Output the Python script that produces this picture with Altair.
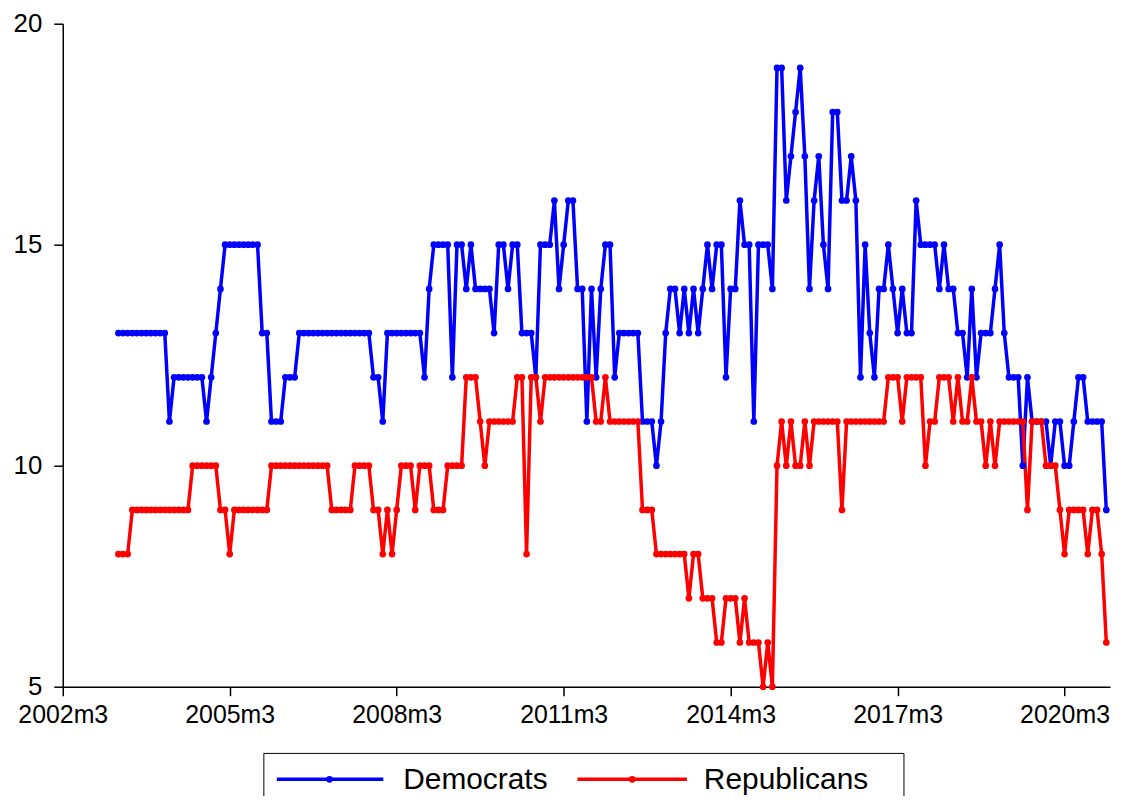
import altair as alt
import pandas as pd

# Monthly series, 2003m3 .. 2020m12 (one row per calendar year)
democrats = (
    [13, 13, 13, 13, 13, 13, 13, 13, 13, 13]                      # 2003 (Mar-Dec)
    + [13, 11, 12, 12, 12, 12, 12, 12, 12, 11, 12, 13]            # 2004
    + [14, 15, 15, 15, 15, 15, 15, 15, 15, 13, 13, 11]            # 2005
    + [11, 11, 12, 12, 12, 13, 13, 13, 13, 13, 13, 13]            # 2006
    + [13, 13, 13, 13, 13, 13, 13, 13, 13, 12, 12, 11]            # 2007
    + [13, 13, 13, 13, 13, 13, 13, 13, 12, 14, 15, 15]            # 2008
    + [15, 15, 12, 15, 15, 14, 15, 14, 14, 14, 14, 13]            # 2009
    + [15, 15, 14, 15, 15, 13, 13, 13, 12, 15, 15, 15]            # 2010
    + [16, 14, 15, 16, 16, 14, 14, 11, 14, 12, 14, 15]            # 2011
    + [15, 12, 13, 13, 13, 13, 13, 11, 11, 11, 10, 11]            # 2012
    + [13, 14, 14, 13, 14, 13, 14, 13, 14, 15, 14, 15]            # 2013
    + [15, 12, 14, 14, 16, 15, 15, 11, 15, 15, 15, 14]            # 2014
    + [19, 19, 16, 17, 18, 19, 17, 14, 16, 17, 15, 14]            # 2015
    + [18, 18, 16, 16, 17, 16, 12, 15, 13, 12, 14, 14]            # 2016
    + [15, 14, 13, 14, 13, 13, 16, 15, 15, 15, 15, 14]            # 2017
    + [15, 14, 14, 13, 13, 12, 14, 12, 13, 13, 13, 14]            # 2018
    + [15, 13, 12, 12, 12, 10, 12, 11, 11, 11, 11, 10]            # 2019
    + [11, 11, 10, 10, 11, 12, 12, 11, 11, 11, 11, 9]             # 2020
)

republicans = (
    [8, 8, 8, 9, 9, 9, 9, 9, 9, 9]                                # 2003 (Mar-Dec)
    + [9, 9, 9, 9, 9, 9, 10, 10, 10, 10, 10, 10]                  # 2004
    + [9, 9, 8, 9, 9, 9, 9, 9, 9, 9, 9, 10]                       # 2005
    + [10, 10, 10, 10, 10, 10, 10, 10, 10, 10, 10, 10]            # 2006
    + [9, 9, 9, 9, 9, 10, 10, 10, 10, 9, 9, 8]                    # 2007
    + [9, 8, 9, 10, 10, 10, 9, 10, 10, 10, 9, 9]                  # 2008
    + [9, 10, 10, 10, 10, 12, 12, 12, 11, 10, 11, 11]             # 2009
    + [11, 11, 11, 11, 12, 12, 8, 12, 12, 11, 12, 12]             # 2010
    + [12, 12, 12, 12, 12, 12, 12, 12, 12, 11, 11, 12]            # 2011
    + [11, 11, 11, 11, 11, 11, 11, 9, 9, 9, 8, 8]                 # 2012
    + [8, 8, 8, 8, 8, 7, 8, 8, 7, 7, 7, 6]                        # 2013
    + [6, 7, 7, 7, 6, 7, 6, 6, 6, 5, 6, 5]                        # 2014
    + [10, 11, 10, 11, 10, 10, 11, 10, 11, 11, 11, 11]            # 2015
    + [11, 11, 9, 11, 11, 11, 11, 11, 11, 11, 11, 11]             # 2016
    + [12, 12, 12, 11, 12, 12, 12, 12, 10, 11, 11, 12]            # 2017
    + [12, 12, 11, 12, 11, 11, 12, 11, 11, 10, 11, 10]            # 2018
    + [11, 11, 11, 11, 11, 11, 9, 11, 11, 11, 10, 10]             # 2019
    + [10, 9, 8, 9, 9, 9, 9, 8, 9, 9, 8, 6]                       # 2020
)

series_names = ["Democrats", "Republicans"]
series_colors = ["#0000FF", "#FF0000"]
x_ticks = [0, 36, 72, 108, 144, 180, 216]     # months since 2002m3
y_ticks = [5, 10, 15, 20]
first_month = 12                              # 2003m3 = 12 months after 2002m3

rows = []
for name, vals in zip(series_names, [democrats, republicans]):
    for i, v in enumerate(vals):
        rows.append({"t": first_month + i, "value": v, "party": name})
df = pd.DataFrame(rows)

FONT = "Liberation Sans"
label_expr = "(2002 + floor((datum.value + 2) / 12)) + 'm' + ((datum.value + 2) % 12 + 1)"

x = alt.X("t:Q",
          scale=alt.Scale(domain=[0, 225.8], nice=False, zero=False),
          axis=alt.Axis(values=x_ticks, labelExpr=label_expr, title=None,
                        labelFlush=False, labelFontSize=25, labelPadding=7))
y = alt.Y("value:Q",
          scale=alt.Scale(domain=[5, 20], nice=False, zero=False),
          axis=alt.Axis(values=y_ticks, title=None, labelFontSize=26, labelPadding=12))
color = alt.Color("party:N",
                  scale=alt.Scale(domain=series_names, range=series_colors),
                  legend=None)

base = alt.Chart(df)
lines = base.mark_line(strokeWidth=3.5).encode(x=x, y=y, color=color, detail="party:N")
points = base.mark_circle(size=45, opacity=1).encode(x=x, y=y, color=color)

# Legend drawn by hand below the plot (pixel positions relative to plot area)
one = pd.DataFrame({"k": [0]})
leg = alt.Chart(one)
legend_box = leg.mark_rect(fill="white", fillOpacity=0, stroke="black", strokeWidth=1).encode(
    x=alt.value(202), x2=alt.value(845), y=alt.value(733), y2=alt.value(810))
legend_parts = [legend_box]
entries = [(series_names[0], series_colors[0], 215, 322, 268, 342),
           (series_names[1], series_colors[1], 517, 627, 572, 644)]
for name, col, lx0, lx1, dx, tx in entries:
    legend_parts.append(leg.mark_rule(color=col, strokeWidth=3.5).encode(
        x=alt.value(lx0), x2=alt.value(lx1), y=alt.value(759)))
    legend_parts.append(leg.mark_circle(color=col, size=45, opacity=1).encode(
        x=alt.value(dx), y=alt.value(759)))
    legend_parts.append(leg.mark_text(text=name, align="left", baseline="middle",
                                      font=FONT, fontSize=30, color="black").encode(
        x=alt.value(tx), y=alt.value(760)))

chart = (
    alt.layer(lines, points, *legend_parts)
    .properties(width=1052, height=666, background="white",
                autosize=alt.AutoSizeParams(type="none"),
                padding={"left": 55, "top": 14, "right": 5, "bottom": 108})
    .configure_view(stroke=None)
    .configure_axis(domainColor="black", domainWidth=1.5, tickColor="black", tickWidth=1.5,
                    tickSize=9, labelFont=FONT, labelColor="black", grid=False)
)

chart.save("out.html", embed_options={"renderer": "svg", "actions": False})
